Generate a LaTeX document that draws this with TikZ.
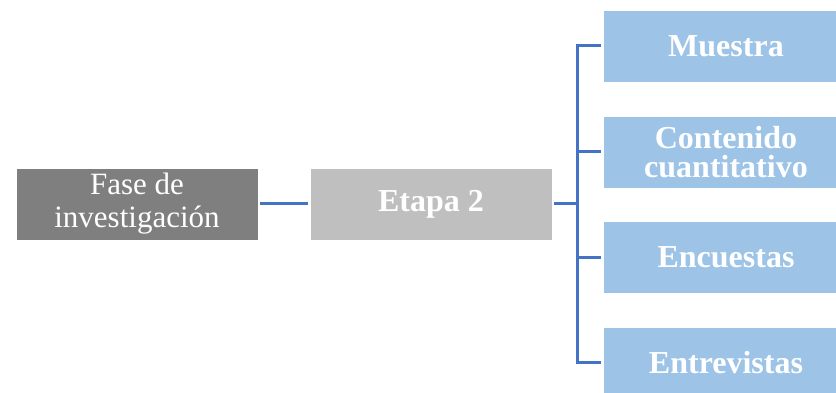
\documentclass[tikz,border=0pt]{standalone}
\usepackage{fontspec}
\setmainfont{Liberation Serif}
\definecolor{darkbox}{HTML}{7F7F7F}
\definecolor{lightbox}{HTML}{BFBFBF}
\definecolor{bluebox}{HTML}{9DC3E6}
\definecolor{connblue}{HTML}{4472C4}
\begin{document}
\begin{tikzpicture}[x=1pt,y=1pt,
  box/.style={inner sep=0pt, text=white, align=center, draw=white, line width=0.8pt},
  leftbox/.style={box, fill=darkbox, minimum width=242pt, minimum height=72pt, font=\fontsize{31}{33}\selectfont},
  midbox/.style={box, fill=lightbox, minimum width=242pt, minimum height=72pt, font=\fontsize{32}{32}\selectfont\bfseries},
  rightbox/.style={box, fill=bluebox, minimum width=246pt, minimum height=72pt, font=\fontsize{32}{29}\selectfont\bfseries},
  conn/.style={draw=connblue, line width=3pt}]
\useasboundingbox (0,0) rectangle (836,393);
\clip (0,0) rectangle (836,393);
\node[leftbox] (fase) at (137,189) {Fase de\\investigación};
\node[midbox] (etapa) at (431,189) {Etapa 2};
\node[rightbox] (muestra) at (726,347) {Muestra};
\node[rightbox] (contenido) at (726,241) {Contenido\\cuantitativo};
\node[rightbox] (encuestas) at (726,135.5) {Encuestas};
\node[rightbox] (entrevistas) at (726,30) {Entrevistas};
\coordinate (trunk) at (577,189);
\draw[conn, shorten <=2pt, shorten >=2pt] (fase.east) -- (etapa.west);
\draw[conn, shorten <=2pt] (etapa.east) -- (trunk);
\draw[conn, line cap=rect] (trunk |- muestra.west) -- (trunk |- entrevistas.west);
\draw[conn, shorten >=2pt] (trunk |- muestra.west) -- (muestra.west);
\draw[conn, shorten >=2pt] (trunk |- contenido.west) -- (contenido.west);
\draw[conn, shorten >=2pt] (trunk |- encuestas.west) -- (encuestas.west);
\draw[conn, shorten >=2pt] (trunk |- entrevistas.west) -- (entrevistas.west);
\end{tikzpicture}
\end{document}
